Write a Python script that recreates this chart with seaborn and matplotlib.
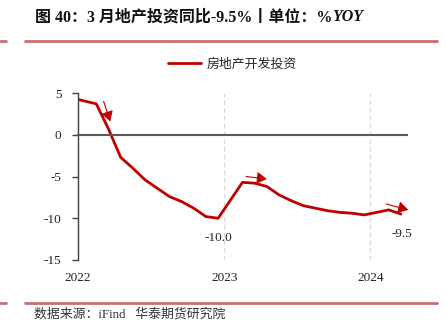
import matplotlib
matplotlib.use("Agg")
import matplotlib.pyplot as plt
from matplotlib.lines import Line2D
import seaborn as sns
import pandas as pd
import numpy as np

# ---- data ----
months = ['2021-12', '2022-02', '2022-03', '2022-04', '2022-05', '2022-06', '2022-07',
          '2022-08', '2022-09', '2022-10', '2022-11', '2022-12',
          '2023-02', '2023-03', '2023-04', '2023-05', '2023-06', '2023-07', '2023-08',
          '2023-09', '2023-10', '2023-11', '2023-12',
          '2024-02', '2024-03']
values = [4.4, 3.7, 0.7, -2.7, -4.0, -5.4, -6.4, -7.4, -8.0, -8.8, -9.8, -10.0,
          -5.7, -5.8, -6.2, -7.2, -7.9, -8.5, -8.8, -9.1, -9.3, -9.4, -9.6,
          -9.0, -9.5]
series_name = '房地产开发投资'
year_labels = ['2022', '2023', '2024']
y_ticks = [-15, -10, -5, 0, 5]
title_main = '图 40：3 月地产投资同比-9.5%丨单位：%'
title_tail = 'YOY'
source_text = '数据来源：iFind   华泰期货研究院'

dates = pd.to_datetime(months)
# month position, mid-month, counted from Jan 2022
xpos = (dates.year - 2022) * 12 + (dates.month - 1) + 0.5
df = pd.DataFrame({'x': xpos, 'v': values, 's': series_name})

sns.set_theme(style='white')
plt.rcParams['font.family'] = ['Liberation Serif', 'Noto Sans CJK SC', 'DejaVu Sans']

RED = '#C00000'
fig = plt.figure(figsize=(4.46, 3.36), dpi=100)
ax = fig.add_axes([78/446, 1-260/336, (407-78)/446, (260-93)/336])

sns.lineplot(data=df, x='x', y='v', hue='s', palette=[RED], lw=2.0, ax=ax, legend=False)

ax.set_xlim(0, 27)
ax.set_ylim(-15, 5)
ax.set_xlabel('')
ax.set_ylabel('')

year_pos = [12 * i for i in range(len(year_labels))]
ax.set_xticks(year_pos)
ax.set_xticklabels(year_labels)
ax.set_yticks(y_ticks)
ax.set_yticklabels([str(t) for t in y_ticks])

for s in ['top', 'right']:
    ax.spines[s].set_visible(False)
ax.spines['bottom'].set_position(('data', 0))
ax.spines['bottom'].set_color('#595959')
ax.spines['bottom'].set_linewidth(1.5)
ax.spines['left'].set_color('#404040')
ax.spines['left'].set_linewidth(1.0)

ax.tick_params(axis='x', direction='out', length=3, width=1, color='#404040',
               pad=96, labelsize=9.5, labelcolor='#222222')
ax.tick_params(axis='y', direction='out', length=4, width=1, color='#404040',
               pad=8, labelsize=9.5, labelcolor='#222222', left=True)

for xp in year_pos[1:]:
    ax.axvline(xp, color='#d9d9d9', lw=0.8, ls=(0, (4, 3)), zorder=0)

# value labels
ax.annotate(f'{values[11]:.1f}', xy=(xpos[11], values[11]), xytext=(0, -14),
            textcoords='offset points', ha='center', va='center', fontsize=9.5,
            color='#222222')
ax.annotate(f'{values[-1]:.1f}', xy=(xpos[-1], values[-1]), xytext=(1, -14),
            textcoords='offset points', ha='center', va='center', fontsize=9.5,
            color='#222222')

# arrows
arrow_kw = dict(arrowstyle='-|>,head_length=0.5,head_width=0.3', color=RED, lw=0.8,
                mutation_scale=12, shrinkA=0, shrinkB=0)
ax.annotate('', xy=(2.65, 1.6), xytext=(2.1, 4.0), arrowprops=arrow_kw, annotation_clip=False)
ax.annotate('', xy=(15.5, -5.3), xytext=(13.8, -5.0), arrowprops=arrow_kw, annotation_clip=False)
ax.annotate('', xy=(27.1, -9.0), xytext=(25.3, -8.3), arrowprops=arrow_kw, annotation_clip=False)

# legend
handle = Line2D([0], [0], color=RED, lw=2.0)
fig.legend([handle], [series_name], loc='center', bbox_to_anchor=(232/446, 1-64/336),
           frameon=False, handlelength=2.6, handletextpad=0.4,
           prop={'family': ['Noto Sans CJK SC'], 'size': 9.3})

# title
t = fig.text(35/446, 1-17/336, title_main, fontsize=11.5, fontweight='bold',
             ha='left', va='center', color='#111111',
             family=['Liberation Serif', 'Noto Sans CJK SC'])
fig.canvas.draw()
bb = t.get_window_extent()
fig.text(bb.x1 / fig.bbox.width, 1-17/336, title_tail, fontsize=11.5, fontweight='bold',
         fontstyle='italic', ha='left', va='center', color='#111111',
         family=['Liberation Serif'])

# decorative rules
LINEC = '#c87070'
for yy in [41, 303]:
    fig.add_artist(Line2D([0, 6/446], [1-yy/336]*2, color=LINEC, lw=2))
    fig.add_artist(Line2D([25/446, 437/446], [1-yy/336]*2, color=LINEC, lw=2))

fig.text(34/446, 1-314/336, source_text, fontsize=9.3, ha='left', va='center',
         color='#333333', family=['Liberation Serif', 'Noto Sans CJK SC'])

fig.savefig('out.png', dpi=100)
